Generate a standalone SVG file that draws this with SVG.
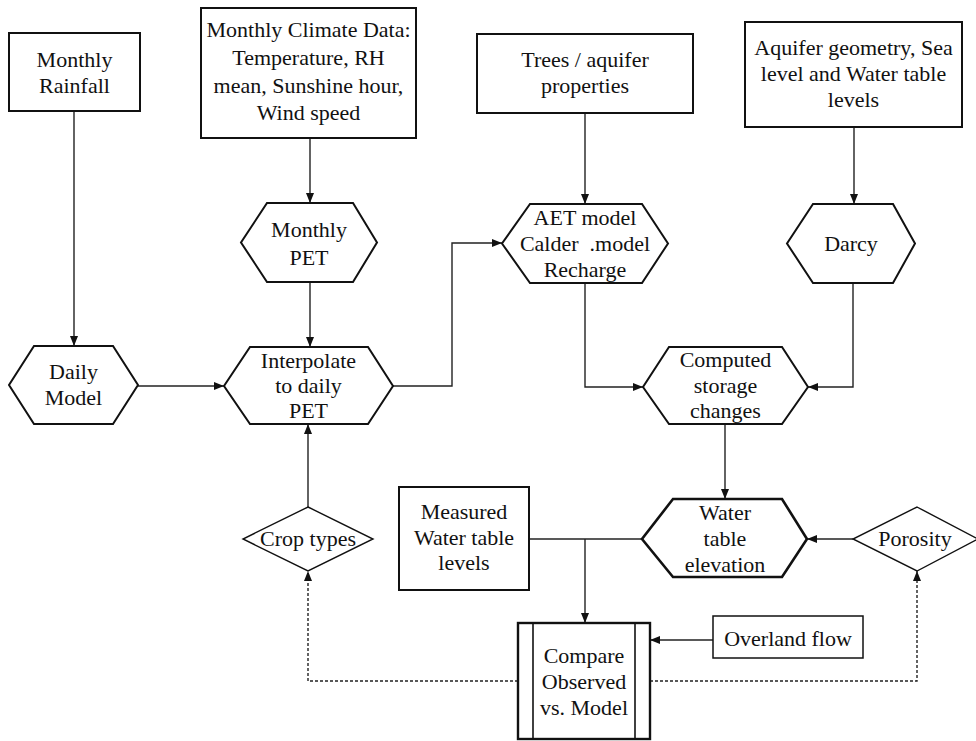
<svg xmlns="http://www.w3.org/2000/svg" width="976" height="741" viewBox="0 0 976 741">
<style>
.box{fill:#fff;stroke:#111;stroke-width:2}
.hex{fill:#fff;stroke:#111;stroke-width:2}
.dia{fill:#fff;stroke:#111;stroke-width:1.4}
.c{fill:none;stroke:#222;stroke-width:1.4}
.d{fill:none;stroke:#222;stroke-width:1.4;stroke-dasharray:3,2}
text{font-family:"Liberation Serif","Times New Roman",serif;font-size:22px;fill:#111;text-anchor:middle}
</style>
<defs>
<marker id="ah" viewBox="0 0 10 10" refX="10" refY="5" markerWidth="10" markerHeight="10" markerUnits="userSpaceOnUse" orient="auto">
<path d="M0,1 L10,5 L0,9 Z" fill="#111"/>
</marker>
</defs>
<rect width="976" height="741" fill="#fff"/>
<g id="connectors">
<path class="c" d="M74,111 V346" marker-end="url(#ah)"/>
<path class="c" d="M310,138 V203" marker-end="url(#ah)"/>
<path class="c" d="M310,282 V347" marker-end="url(#ah)"/>
<path class="c" d="M138,386 H224" marker-end="url(#ah)"/>
<path class="c" d="M393,386 H452 V243 H502" marker-end="url(#ah)"/>
<path class="c" d="M585,113 V204" marker-end="url(#ah)"/>
<path class="c" d="M854,127 V204" marker-end="url(#ah)"/>
<path class="c" d="M585,283 V387 H643" marker-end="url(#ah)"/>
<path class="c" d="M853,283 V387 H808" marker-end="url(#ah)"/>
<path class="c" d="M725,424 V499" marker-end="url(#ah)"/>
<path class="c" d="M853,539 H807" marker-end="url(#ah)"/>
<path class="c" d="M529,539 H642"/>
<path class="c" d="M585,539 V623" marker-end="url(#ah)"/>
<path class="c" d="M713,640 H650" marker-end="url(#ah)"/>
<path class="c" d="M308,507 V424" marker-end="url(#ah)"/>
<path class="d" d="M518,681 H308 V571" marker-end="url(#ah)"/>
<path class="d" d="M650,681 H917 V571" marker-end="url(#ah)"/>
</g>
<g id="monthly-rainfall">
<rect class="box" x="9" y="33" width="131" height="78"/>
<text x="74.5" y="67">Monthly</text>
<text x="74.5" y="93">Rainfall</text>
</g>
<g id="climate-data">
<rect class="box" x="201" y="8" width="215" height="130"/>
<text x="308.5" y="37">Monthly Climate Data:</text>
<text x="308.5" y="65">Temperature, RH</text>
<text x="308.5" y="93">mean, Sunshine hour,</text>
<text x="308.5" y="120">Wind speed</text>
</g>
<g id="trees">
<rect class="box" x="477" y="34" width="216" height="79"/>
<text x="585" y="67">Trees / aquifer</text>
<text x="585" y="93">properties</text>
</g>
<g id="aquifer">
<rect class="box" x="745" y="22" width="217" height="105"/>
<text x="853.5" y="55">Aquifer geometry, Sea</text>
<text x="853.5" y="81">level and Water table</text>
<text x="853.5" y="107">levels</text>
</g>
<g id="monthly-pet">
<polygon class="hex" points="267,203 353,203 377,242.5 353,282 267,282 241,242.5"/>
<text x="309" y="237">Monthly</text>
<text x="309" y="265">PET</text>
</g>
<g id="aet">
<polygon class="hex" points="530,204 642,204 668,243.5 642,283 530,283 502,243.5"/>
<text x="585" y="225">AET model</text>
<text x="585" y="251">Calder &#160;.model</text>
<text x="585" y="277">Recharge</text>
</g>
<g id="darcy">
<polygon class="hex" points="813,204 893,204 915,243.5 893,283 813,283 787,243.5"/>
<text x="851" y="251">Darcy</text>
</g>
<g id="daily-model">
<polygon class="hex" points="34,346 113,346 138,385 113,424 34,424 9,385"/>
<text x="73.5" y="379">Daily</text>
<text x="73.5" y="405">Model</text>
</g>
<g id="interpolate">
<polygon class="hex" points="250,347 368,347 393,386 368,424 250,424 224,386"/>
<text x="308.5" y="368">Interpolate</text>
<text x="308.5" y="393">to daily</text>
<text x="308.5" y="418">PET</text>
</g>
<g id="computed">
<polygon class="hex" points="669,347 782,347 808,387 782,424 669,424 643,387"/>
<text x="725.5" y="367">Computed</text>
<text x="725.5" y="393">storage</text>
<text x="725.5" y="418">changes</text>
</g>
<g id="water-table">
<polygon class="hex" style="stroke-width:2.6" points="673,499 782,499 807,539 782,577 673,577 642,539"/>
<text x="725" y="520">Water</text>
<text x="725" y="546">table</text>
<text x="725" y="572">elevation</text>
</g>
<g id="crop-types">
<polygon class="dia" points="308,507 373,539 308,571 243,539"/>
<text x="308" y="546">Crop types</text>
</g>
<g id="porosity">
<polygon class="dia" points="917,507 978,539 917,571 853,539"/>
<text x="915" y="546">Porosity</text>
</g>
<g id="measured">
<rect class="box" x="399" y="487" width="130" height="103"/>
<text x="464" y="519">Measured</text>
<text x="464" y="545">Water table</text>
<text x="464" y="570">levels</text>
</g>
<g id="overland-flow">
<rect class="box" style="stroke-width:1.5" x="713" y="616" width="150" height="42"/>
<text x="788" y="646">Overland flow</text>
</g>
<g id="compare">
<rect class="box" style="stroke-width:2.4" x="518" y="623" width="132" height="116"/>
<line x1="533" y1="623" x2="533" y2="739" stroke="#111" stroke-width="1.6"/>
<line x1="635" y1="623" x2="635" y2="739" stroke="#111" stroke-width="1.6"/>
<text x="584" y="663">Compare</text>
<text x="584" y="689">Observed</text>
<text x="584" y="715">vs. Model</text>
</g>
</svg>
